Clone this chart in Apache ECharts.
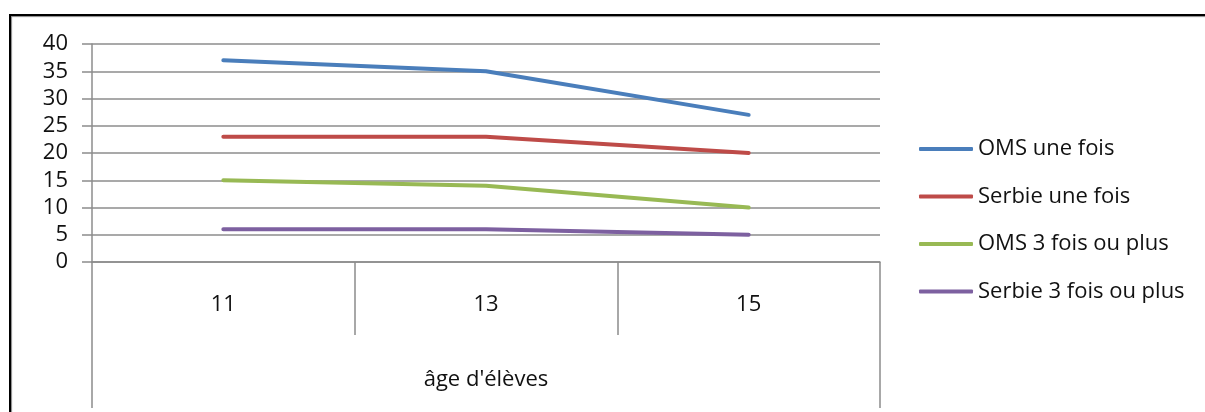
<!DOCTYPE html>
<html>
<head>
<meta charset="utf-8">
<script src="https://cdn.jsdelivr.net/npm/echarts@6/dist/echarts.min.js"></script>
<style>
  html, body { margin: 0; padding: 0; background: #fff; }
  #frame { position: absolute; left: 9px; top: 14px; width: 1300px; height: 500px;
           border-top: 2px solid #000; border-left: 2px solid #000;
           box-shadow: 1px 1px 1px #888 inset; }
  #chart { position: absolute; left: 0; top: 0; width: 1205px; height: 412px; }
</style>
</head>
<body>
<div id="frame"></div>
<div id="chart"></div>
<script>
const categories = ['11', '13', '15'];
const axisTitle = ["âge d'élèves"];
const seriesNames = ['OMS une fois', 'Serbie une fois', 'OMS 3 fois ou plus', 'Serbie 3 fois ou plus'];
const omsUneFois = [37, 35, 27];
const serbieUneFois = [23, 23, 20];
const oms3Fois = [15, 14, 10];
const serbie3Fois = [6, 6, 5];
const colors = ['#4A7EBB', '#BE4B48', '#98B954', '#7D60A0'];

const FONT = '"Open Sans", sans-serif';
const GRAY = '#8c8c8c';
const TXT = '#111';
const chart = echarts.init(document.getElementById('chart'));
const values = [omsUneFois, serbieUneFois, oms3Fois, serbie3Fois];

chart.setOption({
  animation: false,
  grid: { left: 92, right: 325, top: 44, bottom: 150, containLabel: false },
  legend: {
    orient: 'vertical', left: 914, top: 133,
    itemWidth: 54, itemHeight: 4, itemGap: 25.5,
    icon: 'roundRect',
    textStyle: { fontFamily: FONT, fontSize: 22, color: TXT, lineHeight: 22 },
    data: seriesNames
  },
  xAxis: [
    {
      type: 'category', data: categories, position: 'bottom', boundaryGap: true,
      axisLine: { show: true, lineStyle: { color: GRAY, width: 1.5 } },
      axisTick: { show: true, length: 73, interval: 0, lineStyle: { color: GRAY, width: 1.5 } },
      axisLabel: { margin: 32, fontFamily: FONT, fontSize: 22, color: TXT, lineHeight: 22 },
      splitLine: { show: false }
    },
    {
      type: 'category', data: axisTitle, position: 'bottom', boundaryGap: true,
      axisLine: { show: false },
      axisTick: { show: true, length: 146, interval: 0, lineStyle: { color: GRAY, width: 1.5 } },
      axisLabel: { margin: 107, fontFamily: FONT, fontSize: 22, color: TXT, lineHeight: 22 },
      splitLine: { show: false }
    }
  ],
  yAxis: {
    type: 'value', min: 0, max: 40, interval: 5,
    axisLine: { show: true, lineStyle: { color: GRAY, width: 1.5 } },
    axisTick: { show: true, inside: false, length: 10, lineStyle: { color: GRAY, width: 1.5 } },
    axisLabel: { margin: 24, fontFamily: FONT, fontSize: 22, color: TXT },
    splitLine: { show: true, lineStyle: { color: GRAY, width: 1.5 } }
  },
  series: seriesNames.map((name, i) => ({
    name, type: 'line', xAxisIndex: 0, data: values[i],
    symbol: 'none', color: colors[i],
    lineStyle: { color: colors[i], width: 4, cap: 'round' }
  }))
});
</script>
</body>
</html>
